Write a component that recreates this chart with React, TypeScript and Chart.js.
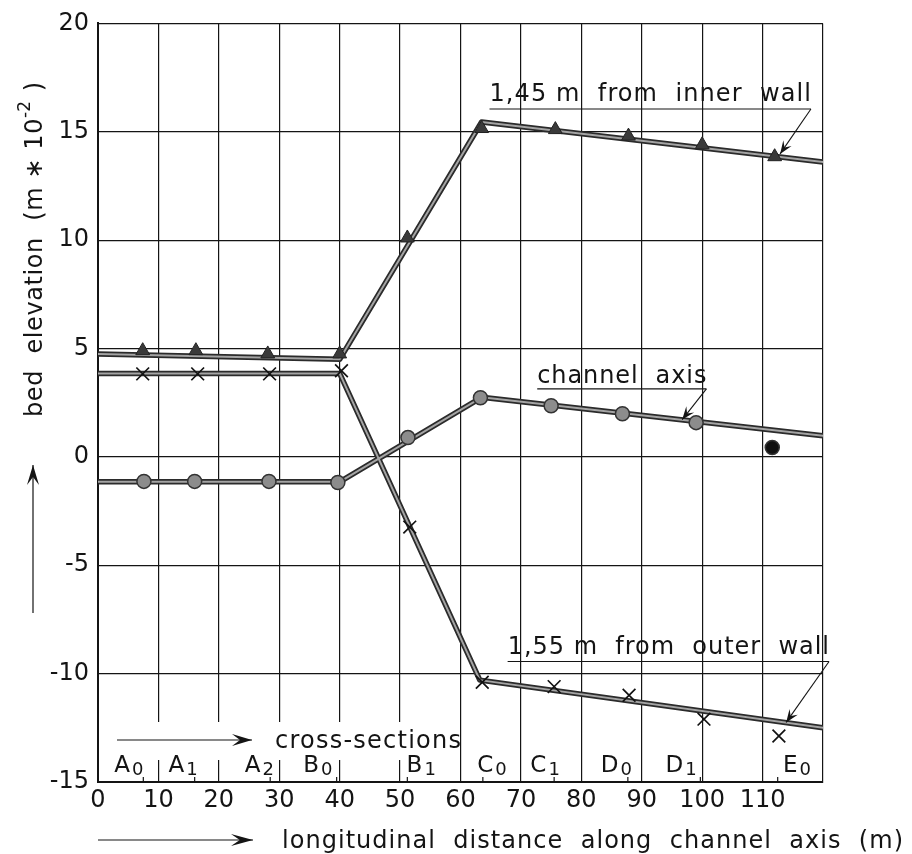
import React, { useEffect, useRef } from 'react';
import { Chart, registerables } from 'chart.js';
Chart.register(...registerables);

// ---- data ----
const innerX = [7.4, 16.2, 28.1, 40.0, 51.2, 63.5, 75.7, 87.8, 100.0, 112.0];
const innerY = [4.9, 4.9, 4.75, 4.75, 10.1, 15.15, 15.1, 14.8, 14.4, 13.85];
const axisX = [7.6, 16.0, 28.3, 39.7, 51.3, 63.3, 75.0, 86.8, 99.0, 111.6];
const axisY = [-1.13, -1.13, -1.13, -1.18, 0.89, 2.73, 2.36, 1.99, 1.58, 0.43];
const outerX = [7.4, 16.5, 28.4, 40.3, 51.6, 63.6, 75.5, 87.9, 100.3, 112.7];
const outerY = [3.83, 3.83, 3.83, 3.97, -3.24, -10.4, -10.6, -11.0, -12.1, -12.88];

const innerLineX = [0, 40, 63.5, 120];
const innerLineY = [4.75, 4.5, 15.45, 13.6];
const axisLineX = [0, 40, 63.5, 120];
const axisLineY = [-1.15, -1.15, 2.75, 0.97];
const outerLineX = [0, 40, 63.2, 120];
const outerLineY = [3.85, 3.85, -10.3, -12.5];

const sectionNames = ['A0', 'A1', 'A2', 'B0', 'B1', 'C0', 'C1', 'D0', 'D1', 'E0'];
const sectionX = [7.5, 16, 28.5, 39.5, 51.2, 63.7, 75.5, 87.7, 99.7, 112.5];
const sectionLabelX = [5.1, 14.1, 26.7, 36.4, 53.5, 65.2, 74.0, 85.8, 96.5, 115.7];

const xTicks = [0, 10, 20, 30, 40, 50, 60, 70, 80, 90, 100, 110];
const yTicks = [-15, -10, -5, 0, 5, 10, 15, 20];

const FONT = '"DejaVu Sans", sans-serif';
const INK = '#141414';

const pts = (xs: number[], ys: number[]) => xs.map((x, i) => ({ x, y: ys[i] }));

function stretchText(ctx: CanvasRenderingContext2D, text: string, x: number, y: number, width: number) {
  (ctx as any).letterSpacing = '0px';
  const w = ctx.measureText(text).width;
  const n = Array.from(text).length;
  const sp = n > 1 ? (width - w) / (n - 1) : 0;
  (ctx as any).letterSpacing = sp + 'px';
  ctx.fillText(text, x, y);
  (ctx as any).letterSpacing = '0px';
}

function arrowHead(ctx: CanvasRenderingContext2D, x1: number, y1: number, x2: number, y2: number, len: number, half: number) {
  const a = Math.atan2(y2 - y1, x2 - x1);
  const bx = x2 - Math.cos(a) * len;
  const by = y2 - Math.sin(a) * len;
  const nx = -Math.sin(a), ny = Math.cos(a);
  const mx = x2 - Math.cos(a) * len * 0.6;
  const my = y2 - Math.sin(a) * len * 0.6;
  ctx.beginPath();
  ctx.moveTo(x2, y2);
  ctx.lineTo(bx + nx * half, by + ny * half);
  ctx.lineTo(mx, my);
  ctx.lineTo(bx - nx * half, by - ny * half);
  ctx.closePath();
  ctx.fill();
}

function arrow(ctx: CanvasRenderingContext2D, x1: number, y1: number, x2: number, y2: number, len = 12, half = 5, lw = 1.2) {
  ctx.beginPath();
  ctx.lineWidth = lw;
  ctx.moveTo(x1, y1);
  ctx.lineTo(x2, y2);
  ctx.stroke();
  arrowHead(ctx, x1, y1, x2, y2, len, half);
}

const annotations = [
  { text: '1,45 m  from  inner  wall', x0: 64.8, x1: 118.0, base: 16.42, under: 16.05, tipX: 112.9, tipY: 13.98 },
  { text: 'channel  axis', x0: 72.7, x1: 100.7, base: 3.42, under: 3.14, tipX: 96.7, tipY: 1.72 },
  { text: '1,55 m  from  outer  wall', x0: 67.8, x1: 121.0, base: -9.08, under: -9.44, tipX: 113.9, tipY: -12.25 },
];

const deco = {
  id: 'deco',
  beforeDatasetsDraw(chart: any) {
    const { ctx, chartArea, scales } = chart;
    const xs = scales.x;
    ctx.save();
    // gap in the grid for the "cross-sections" caption
    const gx0 = chartArea.left + 1.5;
    const gx1 = xs.getPixelForValue(60) - 1.5;
    const gy0 = chartArea.bottom - 60;
    const gy1 = chartArea.bottom - 22;
    ctx.fillStyle = '#fff';
    ctx.fillRect(gx0, gy0, gx1 - gx0, gy1 - gy0);

    ctx.fillStyle = INK;
    ctx.strokeStyle = INK;
    // cross-sections arrow & caption
    arrow(ctx, chartArea.left + 19, chartArea.bottom - 42, chartArea.left + 154, chartArea.bottom - 42, 20, 6, 1.2);
    ctx.font = `24px ${FONT}`;
    ctx.textBaseline = 'alphabetic';
    ctx.textAlign = 'left';
    stretchText(ctx, 'cross-sections', chartArea.left + 177, chartArea.bottom - 34, 186);

    // section marks and labels
    ctx.lineWidth = 1.2;
    sectionX.forEach((sx) => {
      const p = xs.getPixelForValue(sx);
      ctx.beginPath();
      ctx.moveTo(p, chartArea.bottom);
      ctx.lineTo(p, chartArea.bottom - 5);
      ctx.stroke();
    });
    sectionNames.forEach((name, i) => {
      const main = name.slice(0, 1);
      const sub = name.slice(1);
      ctx.font = `23px ${FONT}`;
      const wm = ctx.measureText(main).width;
      ctx.font = `18px ${FONT}`;
      const ws = ctx.measureText(sub).width;
      const cx = xs.getPixelForValue(sectionLabelX[i]);
      const left = cx - (wm + ws + 2) / 2;
      const base = chartArea.bottom - 10;
      ctx.font = `23px ${FONT}`;
      ctx.fillText(main, left, base);
      ctx.font = `18px ${FONT}`;
      ctx.fillText(sub, left + wm + 2, base + 3);
    });
    ctx.restore();
  },
  afterDraw(chart: any) {
    const { ctx, chartArea, scales } = chart;
    const xs = scales.x, ys = scales.y;
    ctx.save();
    ctx.fillStyle = INK;
    ctx.strokeStyle = INK;
    ctx.textBaseline = 'alphabetic';
    ctx.textAlign = 'left';

    // annotations pointing at the lines
    annotations.forEach((a) => {
      const px0 = xs.getPixelForValue(a.x0);
      const px1 = xs.getPixelForValue(a.x1);
      ctx.font = `24px ${FONT}`;
      stretchText(ctx, a.text, px0, ys.getPixelForValue(a.base), px1 - px0);
      const uy = ys.getPixelForValue(a.under);
      ctx.beginPath();
      ctx.lineWidth = 1.1;
      ctx.moveTo(px0, uy);
      ctx.lineTo(px1, uy);
      ctx.stroke();
      arrow(ctx, px1, uy, xs.getPixelForValue(a.tipX), ys.getPixelForValue(a.tipY), 13, 5, 1.1);
    });

    // x axis title
    const xb = chartArea.bottom + 66;
    arrow(ctx, chartArea.left, xb - 8, chartArea.left + 155, xb - 8, 22, 6, 1.2);
    ctx.font = `24px ${FONT}`;
    stretchText(ctx, 'longitudinal  distance  along  channel  axis  (m)', chartArea.left + 184, xb, 621);

    // y axis title (rotated) with superscript, fitted to its length in the reference
    ctx.save();
    ctx.translate(42, 417);
    ctx.rotate(-Math.PI / 2);
    const t1 = 'bed  elevation  (m \u2217 10';
    const t3 = ' )';
    (ctx as any).letterSpacing = '0px';
    ctx.font = `24px ${FONT}`;
    const m1 = ctx.measureText(t1).width;
    const m3 = ctx.measureText(t3).width;
    ctx.font = `17px ${FONT}`;
    const m2 = ctx.measureText('-2').width;
    const n1 = Array.from(t1).length;
    const sp = Math.max(0, (335 - m1 - m2 - m3 - 2) / n1);
    ctx.font = `24px ${FONT}`;
    (ctx as any).letterSpacing = sp + 'px';
    ctx.fillText(t1, 0, 0);
    const w1 = m1 + sp * n1;
    (ctx as any).letterSpacing = '0px';
    ctx.font = `17px ${FONT}`;
    ctx.fillText('-2', w1, -12);
    ctx.font = `24px ${FONT}`;
    ctx.fillText(t3, w1 + m2 + 2, 0);
    ctx.restore();

    // y arrow
    arrow(ctx, 33, 613, 33, 465, 20, 6, 1.2);
    ctx.restore();
  },
};

export default function App() {
  const ref = useRef<HTMLCanvasElement>(null);
  useEffect(() => {
    document.body.style.margin = '0';
    const canvas = ref.current!;
    const darkLine = (xs: number[], ys: number[]) => ({
      data: pts(xs, ys), showLine: true, borderColor: '#2b2b2b', borderWidth: 5.5,
      pointRadius: 0, fill: false, order: 3, borderCapStyle: 'round', borderJoinStyle: 'round',
    });
    const lightLine = (xs: number[], ys: number[]) => ({
      data: pts(xs, ys), showLine: true, borderColor: '#a4a4a4', borderWidth: 2,
      pointRadius: 0, fill: false, order: 2, borderCapStyle: 'round', borderJoinStyle: 'round',
    });
    const chart = new Chart(canvas, {
      type: 'scatter',
      data: {
        datasets: [
          darkLine(innerLineX, innerLineY) as any,
          darkLine(axisLineX, axisLineY) as any,
          darkLine(outerLineX, outerLineY) as any,
          lightLine(innerLineX, innerLineY) as any,
          lightLine(axisLineX, axisLineY) as any,
          lightLine(outerLineX, outerLineY) as any,
          {
            label: '1,45 m from inner wall', data: pts(innerX, innerY), showLine: false,
            pointStyle: 'triangle', pointRadius: 8, backgroundColor: '#3a3a3a', borderColor: '#222', borderWidth: 1, order: 1,
          },
          {
            label: 'channel axis', data: pts(axisX, axisY), showLine: false,
            pointStyle: 'circle', pointRadius: 7,
            backgroundColor: (c: any) => (c.dataIndex === axisX.length - 1 ? '#111' : '#8c8c8c'),
            borderColor: '#333', borderWidth: 1.5, order: 1,
          },
          {
            label: '1,55 m from outer wall', data: pts(outerX, outerY), showLine: false,
            pointStyle: 'crossRot', pointRadius: 9, borderColor: '#111', borderWidth: 1.7, order: 1,
          },
        ],
      },
      options: {
        animation: false,
        responsive: false,
        maintainAspectRatio: false,
        layout: { padding: { left: 0, top: 21, right: 89, bottom: 0 } },
        plugins: { legend: { display: false }, tooltip: { enabled: false } },
        scales: {
          x: {
            type: 'linear', min: 0, max: 120,
            afterBuildTicks: (s: any) => { s.ticks = [...xTicks, 120].map((v) => ({ value: v })); },
            afterFit: (s: any) => { s.height = 72; },
            ticks: {
              callback: (v: any) => (xTicks.includes(v) ? String(v) : ''),
              font: { family: FONT, size: 24 }, color: INK, padding: 4, maxRotation: 0, autoSkip: false,
            },
            grid: { color: INK, lineWidth: 1.2, drawTicks: false },
            border: { color: INK, width: 2 },
          },
          y: {
            type: 'linear', min: -15, max: 20,
            afterBuildTicks: (s: any) => { s.ticks = yTicks.map((v) => ({ value: v })); },
            afterFit: (s: any) => { s.width = 98; },
            ticks: {
              callback: (v: any) => String(v),
              font: { family: FONT, size: 24 }, color: INK, padding: 9, autoSkip: false,
            },
            grid: { color: INK, lineWidth: 1.2, drawTicks: false },
            border: { color: INK, width: 2 },
          },
        },
      } as any,
      plugins: [deco],
    });
    return () => chart.destroy();
  }, []);
  return <canvas ref={ref} width={912} height={854} style={{ display: 'block' }} />;
}
